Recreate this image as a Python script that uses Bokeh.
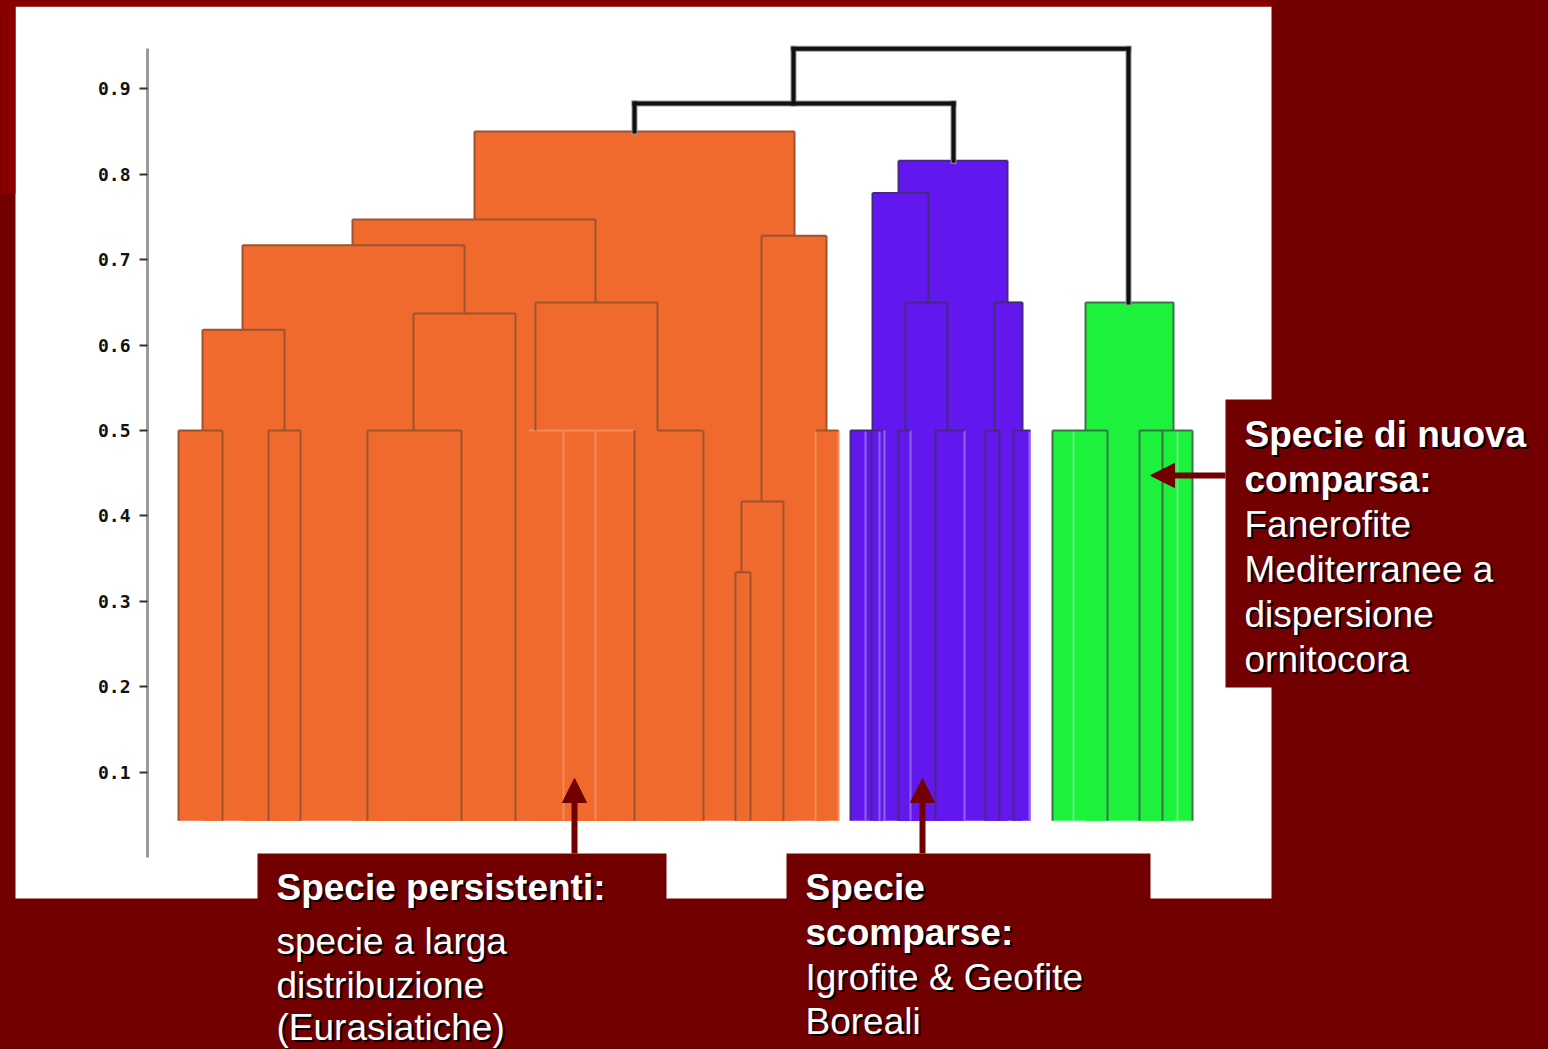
from bokeh.plotting import figure
from bokeh.models import (Range1d, LinearAxis, FixedTicker, BoxAnnotation, Arrow,
                          NormalHead, ColumnDataSource, GlobalInlineStyleSheet)
from bokeh.core.properties import value, field
from bokeh.embed import file_html
from bokeh.resources import INLINE

# ---------------- data (x in leaf-order units, heights in distance units) ----------------
tick_values = [0.1, 0.2, 0.3, 0.4, 0.5, 0.6, 0.7, 0.8, 0.9]
tick_labels = ["0.1", "0.2", "0.3", "0.4", "0.5", "0.6", "0.7", "0.8", "0.9"]
leaf_base = 0.043

# orange cluster (persistent species)
orange_group_x0 = [1.0, 10.0, 19.9, 36.0, 48.9, 64.7]
orange_group_x1 = [5.4, 13.2, 29.3, 46.5, 53.4, 67.0]
orange_group_h = [0.50, 0.50, 0.50, 0.50, 0.50, 0.50]
orange_group_dark = [1, 1, 1, 0, 1, 1]
orange_node_x0 = [56.7, 57.3, 59.3, 3.4, 24.5, 7.4, 36.7, 18.4, 30.6]
orange_node_x1 = [58.2, 61.5, 65.8, 11.6, 34.7, 29.6, 48.9, 42.7, 62.6]
orange_node_h = [0.334, 0.417, 0.728, 0.618, 0.637, 0.717, 0.650, 0.747, 0.850]
orange_node_h0 = [0.043, 0.334, 0.417, 0.500, 0.500, 0.618, 0.500, 0.717, 0.747]
orange_node_h1 = [0.043, 0.043, 0.500, 0.500, 0.043, 0.637, 0.500, 0.650, 0.728]
orange_leaf_x = [1.0, 5.4, 10.0, 13.2, 19.9, 29.3, 39.5, 42.7, 46.6, 53.5, 64.7, 67.0]
orange_leaf_dark = [1, 1, 1, 1, 1, 1, 0, 0, 1, 1, 0, 0]

# purple cluster (disappeared species)
purple_group_x0 = [68.2, 73.0, 76.7, 81.7, 84.5]
purple_group_x1 = [71.4, 74.2, 79.6, 83.2, 86.2]
purple_group_h = [0.50, 0.50, 0.50, 0.50, 0.50]
purple_group_dark = [1, 1, 1, 1, 1]
purple_node_x0 = [73.7, 70.4, 82.6, 73.0]
purple_node_x1 = [77.9, 76.0, 85.4, 83.9]
purple_node_h = [0.650, 0.778, 0.650, 0.816]
purple_node_h0 = [0.500, 0.500, 0.500, 0.778]
purple_node_h1 = [0.500, 0.650, 0.500, 0.650]
purple_leaf_x = [68.2, 69.7, 70.3, 71.1, 71.6, 73.0, 74.2, 76.7, 79.6, 81.7, 83.1, 84.5, 86.1]
purple_leaf_dark = [1, 0, 1, 0, 0, 1, 0, 1, 0, 1, 1, 1, 0]

# green cluster (newly appeared species)
green_group_x0 = [88.4, 97.1]
green_group_x1 = [93.9, 102.4]
green_group_h = [0.50, 0.50]
green_group_dark = [1, 1]
green_node_x0 = [91.7]
green_node_x1 = [100.5]
green_node_h = [0.650]
green_node_h0 = [0.500]
green_node_h1 = [0.500]
green_leaf_x = [88.4, 90.5, 93.9, 97.1, 99.4, 100.9, 102.4]
green_leaf_dark = [1, 0, 1, 1, 1, 0, 1]

# top-level black links
link_x0 = [46.6, 62.5]
link_x1 = [78.5, 96.0]
link_h = [0.883, 0.947]
link_h0 = [0.850, 0.883]
link_h1 = [0.816, 0.650]

# annotation texts
box1_lines = ["Specie persistenti:", "specie a larga", "distribuzione", "(Eurasiatiche)"]
box1_bold = [True, False, False, False]
box2_lines = ["Specie", "scomparse:", "Igrofite & Geofite", "Boreali"]
box2_bold = [True, True, False, False]
box3_lines = ["Specie di nuova", "comparsa:", "Fanerofite", "Mediterranee a", "dispersione", "ornitocora"]
box3_bold = [True, True, False, False, False, False]

# ---------------- styles / layout ----------------
SLIDE_RED = "#730000"
CORNER_RED = "#8A0000"
FONT = "Liberation Sans"

p = figure(width=1548, height=1049,
           x_range=Range1d(-16.8, 138.0), y_range=Range1d(-0.22482, 1.00351),
           x_axis_type=None, y_axis_type=None, toolbar_location=None,
           output_backend="svg", min_border=0, title=None,
           background_fill_color=SLIDE_RED, border_fill_color=SLIDE_RED,
           outline_line_color=None)
p.stylesheets = [GlobalInlineStyleSheet(css="body { background-color: #730000; }")]

# white chart panel and slide corner decoration
p.add_layout(BoxAnnotation(left=-15.3, right=110.3, bottom=-0.048, top=0.9965,
                           fill_color="white", fill_alpha=1.0, line_color=None,
                           level="underlay"))
p.add_layout(BoxAnnotation(left=-17.5, right=110.3, bottom=0.9965, top=1.1,
                           fill_color=CORNER_RED, fill_alpha=1.0, line_color=None,
                           level="underlay"))
p.add_layout(BoxAnnotation(left=-17.5, right=-15.3, bottom=0.7775, top=1.1,
                           fill_color=CORNER_RED, fill_alpha=1.0, line_color=None,
                           level="underlay"))


def draw_fill(gx0, gx1, gh, nx0, nx1, nh, fill):
    p.quad(left=gx0 + nx0, right=gx1 + nx1,
           bottom=[leaf_base] * (len(gx0) + len(nx0)), top=gh + nh,
           fill_color=fill, line_color=None)


def draw_lines(gx0, gx1, gh, gdark, nx0, nx1, nh, nh0, nh1, lx, ldark, dark, light, lw=2):
    for want, col in [(0, light), (1, dark)]:
        xs = [x for x, d in zip(lx, ldark) if d == want]
        if xs:
            p.segment(x0=xs, x1=xs, y0=[leaf_base] * len(xs), y1=[0.5] * len(xs),
                      line_color=col, line_width=lw)
        g = [(a, b, h) for a, b, h, d in zip(gx0, gx1, gh, gdark) if d == want]
        if g:
            p.segment(x0=[t[0] for t in g], x1=[t[1] for t in g],
                      y0=[t[2] for t in g], y1=[t[2] for t in g],
                      line_color=col, line_width=lw)
    sx0, sy0, sx1, sy1 = [], [], [], []
    for a, b, h, h0, h1 in zip(nx0, nx1, nh, nh0, nh1):
        sx0 += [a, a, b]; sy0 += [h0, h, h1]; sx1 += [a, b, b]; sy1 += [h, h, h]
    p.segment(x0=sx0, y0=sy0, x1=sx1, y1=sy1, line_color=dark, line_width=lw)


draw_fill(orange_group_x0, orange_group_x1, orange_group_h,
          orange_node_x0, orange_node_x1, orange_node_h, "#EF6A2C")
draw_fill(purple_group_x0, purple_group_x1, purple_group_h,
          purple_node_x0, purple_node_x1, purple_node_h, "#6317EF")
draw_fill(green_group_x0, green_group_x1, green_group_h,
          green_node_x0, green_node_x1, green_node_h, "#1CF23B")

draw_lines(orange_group_x0, orange_group_x1, orange_group_h, orange_group_dark,
           orange_node_x0, orange_node_x1, orange_node_h, orange_node_h0, orange_node_h1,
           orange_leaf_x, orange_leaf_dark, "#9E5230", "#F4895A")
draw_lines(purple_group_x0, purple_group_x1, purple_group_h, purple_group_dark,
           purple_node_x0, purple_node_x1, purple_node_h, purple_node_h0, purple_node_h1,
           purple_leaf_x, purple_leaf_dark, "#46297C", "#8C66E8")
draw_lines(green_group_x0, green_group_x1, green_group_h, green_group_dark,
           green_node_x0, green_node_x1, green_node_h, green_node_h0, green_node_h1,
           green_leaf_x, green_leaf_dark, "#3A7446", "#62EE80")

# black top-level links
bx0, by0, bx1, by1 = [], [], [], []
for a, b, h, h0, h1 in zip(link_x0, link_x1, link_h, link_h0, link_h1):
    bx0 += [a, a, b]; by0 += [h0, h, h1]; bx1 += [a, b, b]; by1 += [h, h, h]
p.segment(x0=bx0, y0=by0, x1=bx1, y1=by1, line_color="#9a9a9a", line_width=6, line_cap="square")
p.segment(x0=bx0, y0=by0, x1=bx1, y1=by1, line_color="#111111", line_width=4, line_cap="square")

# y axis inside the panel
yax = LinearAxis(fixed_location=-2.1, ticker=FixedTicker(ticks=tick_values),
                 major_label_overrides={v: t for v, t in zip(tick_values, tick_labels)},
                 bounds=(0.0, 0.947), axis_line_color="#9a9a9a", axis_line_width=3,
                 major_tick_line_color="#333333", major_tick_line_width=2,
                 major_tick_in=0, major_tick_out=8, minor_tick_line_color=None,
                 major_label_text_font="DejaVu Sans Mono", major_label_text_font_style="bold",
                 major_label_text_font_size="18px", major_label_text_color="#111111",
                 major_label_standoff=9)
p.add_layout(yax, "left")

# annotation boxes
for l, r, b, t in [(8.9, 49.8, -0.3, 0.00468), (61.8, 98.2, -0.3, 0.00468),
                   (105.7, 140.0, 0.1991, 0.5363)]:
    p.add_layout(BoxAnnotation(left=l, right=r, bottom=b, top=t, fill_color=SLIDE_RED,
                               fill_alpha=1.0, line_color=None))

# arrows
for xs, ys, xe, ye in [(40.6, 0.00468, 40.6, 0.0925), (75.4, 0.00468, 75.4, 0.0925),
                       (105.7, 0.4473, 98.2, 0.4473)]:
    p.add_layout(Arrow(end=NormalHead(size=24, fill_color=SLIDE_RED, line_color=SLIDE_RED),
                       x_start=xs, y_start=ys, x_end=xe, y_end=ye,
                       line_color=SLIDE_RED, line_width=6))

# texts (baselines)
box1_y = [-0.0351, -0.0983, -0.1498, -0.1990]
box2_y = [-0.0351, -0.0878, -0.1405, -0.1920]
box3_y = [0.4953, 0.4426, 0.3899, 0.3373, 0.2846, 0.2319]
tx, ty, tt, ts = [], [], [], []
for x0, ys, lines, bolds in [(10.8, box1_y, box1_lines, box1_bold),
                             (63.7, box2_y, box2_lines, box2_bold),
                             (107.6, box3_y, box3_lines, box3_bold)]:
    for y, s, b in zip(ys, lines, bolds):
        tx.append(x0); ty.append(y); tt.append(s); ts.append("bold" if b else "normal")
shadow = ColumnDataSource(dict(x=[v + 0.2 for v in tx], y=[v - 0.00234 for v in ty], text=tt, style=ts))
front = ColumnDataSource(dict(x=tx, y=ty, text=tt, style=ts))
for src, col in [(shadow, "#000000"), (front, "#FFFFFF")]:
    p.text(x="x", y="y", text="text", source=src, text_font=value(FONT),
           text_font_style=field("style"), text_font_size="37px", text_color=col,
           text_baseline="alphabetic", text_align="left", level="overlay")

open("out.html", "w").write(file_html(p, INLINE))
